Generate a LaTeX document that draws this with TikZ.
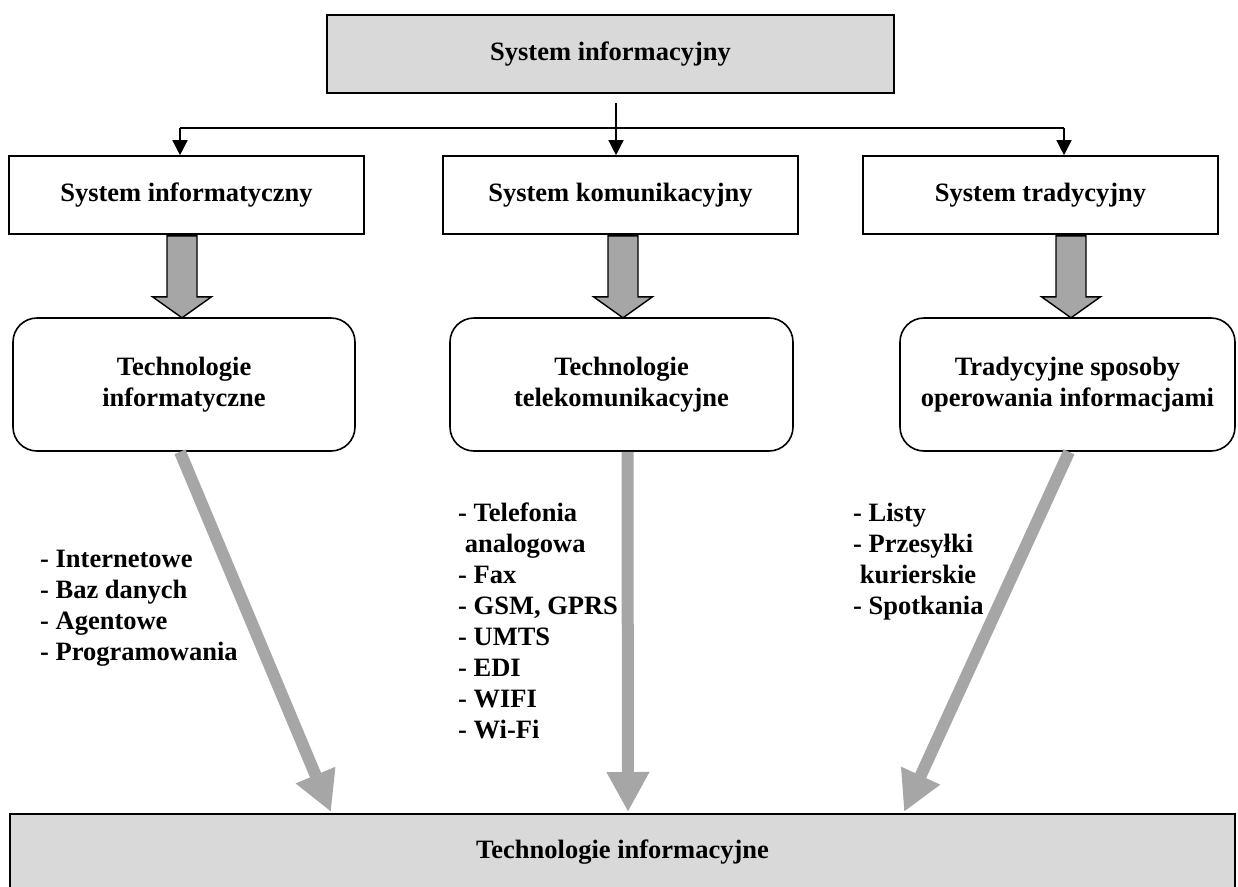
\documentclass[tikz,border=0pt]{standalone}
\usepackage{fontspec}
\setmainfont{Liberation Serif}
\usetikzlibrary{arrows.meta,calc}
\definecolor{boxgray}{HTML}{D9D9D9}
\definecolor{arrgray}{HTML}{A6A6A6}
\begin{document}
\begin{tikzpicture}[x=1pt,y=-1pt,
  every node/.style={font=\fontsize{26.5}{31}\selectfont\bfseries},
  sysbox/.style={draw, line width=1.6pt, minimum width=355pt, minimum height=78pt, inner sep=0pt},
  techbox/.style={draw, line width=1.6pt, rounded corners=24pt, minimum height=133pt, align=center, inner sep=0pt},
  conn/.style={line width=1.4pt, -{Triangle[length=15pt,width=15pt]}},
  bus/.style={line width=2.6pt},
  flow/.style={draw=arrgray, line width=12pt, -{Triangle[length=40pt,width=40pt]}},
  itemlist/.style={align=left, anchor=north west, inner sep=0pt},
  fatdown/.pic={\draw[fill=arrgray, line width=1.4pt, line join=miter]
      (-15,0) -- (15,0) -- (15,61) -- (29.5,61) -- (0,82) -- (-29.5,61) -- (-15,61) -- cycle;}
]
\useasboundingbox (0,0) rectangle (1238,886);

% top level
\node[draw, fill=boxgray, line width=2pt, minimum width=567pt, minimum height=78pt, inner sep=0pt]
  (top) at (610.5,54) {System informacyjny};

% the three systems
\node[sysbox] (sys1) at (186.5,195) {System informatyczny};
\node[sysbox] (sys2) at (620.5,195) {System komunikacyjny};
\node[sysbox] (sys3) at (1040.5,195) {System tradycyjny};

% distribution lines
\coordinate (split) at (616,128);
\coordinate (lft) at (180,128);
\coordinate (rgt) at (1064,128);
\draw[bus] (lft) -- (rgt);
\draw[conn] ([yshift=-9pt]top.south -| split) -- (sys2.north -| split);
\draw[conn] (lft) -- (lft |- sys1.north);
\draw[conn] (rgt) -- (rgt |- sys3.north);

% technology boxes
\node[techbox, minimum width=342pt] (tech1) at (184,384.5) {Technologie\\informatyczne};
\node[techbox, minimum width=343pt] (tech2) at (621.5,384.5) {Technologie\\telekomunikacyjne};
\node[techbox, minimum width=335pt] (tech3) at (1067.5,384.5) {Tradycyjne sposoby\\operowania informacjami};

% block arrows between systems and technologies
\pic at ($(sys1.south)+(-4.5,1)$) {fatdown};
\pic at ($(sys2.south)+(2.5,1)$) {fatdown};
\pic at ($(sys3.south)+(30.5,1)$) {fatdown};

% bottom bar
\node[draw, fill=boxgray, line width=2pt, minimum width=1225pt, minimum height=76pt, inner sep=0pt]
  (bottom) at (622.5,852) {Technologie informacyjne};

% flows into the bottom bar
\draw[flow] ([xshift=-4pt]tech1.south) -- ([xshift=-291.5pt,yshift=1pt]bottom.north);
\draw[flow] ([xshift=6pt]tech2.south) -- ([xshift=5.5pt,yshift=1pt]bottom.north);
\draw[flow] ([xshift=1.5pt]tech3.south) -- ([xshift=281.5pt,yshift=1pt]bottom.north);

% lists
\node[itemlist] (list1) at (40,550) {- Internetowe\\- Baz danych\\- Agentowe\\- Programowania};
\node[itemlist] (list2) at (458,503) {- Telefonia\\\ analogowa\\- Fax\\- GSM, GPRS\\- UMTS\\- EDI\\- WIFI\\- Wi-Fi};
\node[itemlist] (list3) at (853,503) {- Listy\\- Przesyłki\\\ kurierskie\\- Spotkania};
\end{tikzpicture}
\end{document}
